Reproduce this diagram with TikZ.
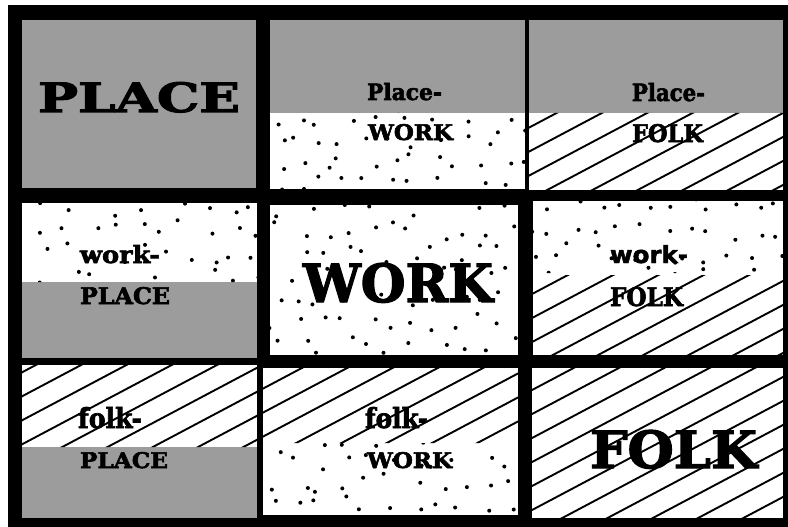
\documentclass[tikz,border=0pt]{standalone}
\usepackage{fontspec}
\usepackage{graphicx}
\newfontfamily\slabfont{DejaVu Serif Bold}[FakeBold=2.5]
\newfontfamily\sansfnt{DejaVu Sans Bold}[FakeBold=2]
\definecolor{halftone}{RGB}{156,156,156}
\tikzset{
  lbl/.style={inner sep=0pt, outer sep=0pt, anchor=base west},
  graycell/.style={fill=halftone},
  hatchline/.style={line width=1.9pt},
}
\newcommand{\slabtxt}[3]{\resizebox{#1pt}{#2pt}{\slabfont #3}}
\newcommand{\sanstxt}[3]{\resizebox{#1pt}{#2pt}{\sansfnt #3}}
\begin{document}
\begin{tikzpicture}[x=1pt,y=-1pt]
\useasboundingbox (0,0) rectangle (788,527);
\fill[white] (0,0) rectangle (788,527);
% outer black frame / grid
\fill[black] (8,5) rectangle (788,527);
% white cell interiors
\fill[white] (270,113) rectangle (525,189);
\fill[white] (529,113) rectangle (783,190);
\fill[white] (22,203) rectangle (257,282);
\fill[white] (270,205) rectangle (518,355);
\fill[white] (533,201) rectangle (783,355);
\fill[white] (22,365) rectangle (257,447);
\fill[white] (263,368) rectangle (518,515);
\fill[white] (532,368) rectangle (783,518);
% gray halftone regions
\fill[graycell] (22,20) rectangle (256,188);
\fill[graycell] (270,20) rectangle (525,113);
\fill[graycell] (529,20) rectangle (783,113);
\fill[graycell] (22,282) rectangle (257,358);
\fill[graycell] (22,447) rectangle (257,518);
% hatching
\begin{scope}
  \clip (529,113) rectangle (783,190)
        (533,275) rectangle (783,355)
        (22,365) rectangle (257,447)
        (263,368) rectangle (518,443)
        (532,368) rectangle (783,518);
  \foreach \c in {0,24,...,1000} {
    \draw[hatchline] (0,\c) -- (800,\c-424);
  }
\end{scope}
% stippled dots
\pgfmathsetseed{23}
\begin{scope}
  \clip (270,113) rectangle (525,189)
        (22,203) rectangle (257,282)
        (270,205) rectangle (518,355)
        (533,201) rectangle (783,273)
        (263,443) rectangle (518,515);
  \foreach \gx in {0,23,...,790} {
    \foreach \gy in {0,23,...,530} {
      \fill (\gx+10*rand,\gy+10*rand) circle (2pt);
    }
  }
\end{scope}
% labels
\node[lbl] (t1) at (38,112) {\slabtxt{202}{30}{PLACE}};
\node[lbl] (t2) at (367,100) {\slabtxt{75}{17}{Place-}};
\node[lbl] (t3) at (368,140) {\slabtxt{85}{16}{WORK}};
\node[lbl] (t4) at (632,101) {\slabtxt{73}{18}{Place-}};
\node[lbl] (t5) at (632,142) {\slabtxt{71}{18}{FOLK}};
\node[lbl] (t6) at (80,263) {\slabtxt{80}{18}{work-}};
\node[lbl] (t7) at (80,304) {\slabtxt{90}{17}{PLACE}};
\node[lbl] (t8) at (303,302) {\slabtxt{190}{39}{WORK}};
\node[lbl] (t9) at (610,263) {\sanstxt{78}{18}{work-}};
\node[lbl] (t10) at (610,306) {\slabtxt{73}{19}{FOLK}};
\node[lbl] (t11) at (78,428) {\slabtxt{64}{21}{folk-}};
\node[lbl] (t12) at (80,468) {\slabtxt{88}{16}{PLACE}};
\node[lbl] (t13) at (365,428) {\slabtxt{63}{21}{folk-}};
\node[lbl] (t14) at (367,468) {\slabtxt{85}{16}{WORK}};
\node[lbl] (t15) at (590,468) {\slabtxt{167}{38}{FOLK}};
\end{tikzpicture}
\end{document}
